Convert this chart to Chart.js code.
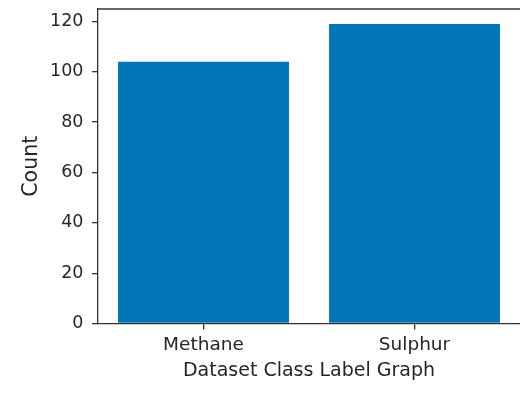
<!DOCTYPE html>
<html>
<head>
<meta charset="utf-8">
<script src="https://cdn.jsdelivr.net/npm/chart.js@4/dist/chart.umd.min.js"></script>
<style>
  html, body { margin: 0; padding: 0; background: #ffffff; }
  #wrap { width: 520px; height: 396px; }
</style>
</head>
<body>
<div id="wrap"><canvas id="c" width="520" height="396"></canvas></div>
<script>
const categories = ["Methane", "Sulphur"];
const counts = [104, 119];
const yTicks = [0, 20, 40, 60, 80, 100, 120];
const xTitle = "Dataset Class Label Graph";
const yTitle = "Count";

const TEXT = '#262626';
const SPINE = '#333333';
const FONT = 'DejaVu Sans';

const framePlugin = {
  id: 'frame',
  afterDraw(chart) {
    const { ctx, chartArea: a } = chart;
    ctx.save();
    ctx.strokeStyle = SPINE;
    ctx.lineWidth = 1.3;
    ctx.beginPath();
    ctx.moveTo(a.left, a.top);
    ctx.lineTo(chart.width + 2, a.top);
    ctx.stroke();
    ctx.restore();
  }
};

new Chart(document.getElementById('c'), {
  type: 'bar',
  data: {
    labels: categories,
    datasets: [{
      data: counts,
      backgroundColor: '#0076b6',
      borderWidth: 0,
      categoryPercentage: 1.0,
      barPercentage: 0.81
    }]
  },
  options: {
    responsive: false,
    animation: false,
    devicePixelRatio: 1,
    layout: { padding: { top: 9, right: 0, bottom: 0, left: 0 } },
    plugins: {
      legend: { display: false },
      tooltip: { enabled: false }
    },
    scales: {
      x: {
        offset: true,
        grid: { display: true, offset: false, drawOnChartArea: false, drawTicks: true, tickLength: 6, color: SPINE, lineWidth: 1.3 },
        border: { display: true, color: SPINE, width: 1.3 },
        ticks: { color: TEXT, font: { family: FONT, size: 18.5 }, padding: 5, maxRotation: 0 },
        title: { display: true, text: xTitle, color: TEXT, font: { family: FONT, size: 19 }, padding: { top: 0, bottom: 14 } },
        afterFit(scale) { scale.height = 72.5; scale.paddingLeft = 0; scale.paddingRight = 0; }
      },
      y: {
        min: 0,
        max: 124.95,
        afterBuildTicks(scale) { scale.ticks = yTicks.map(v => ({ value: v })); },
        grid: { display: true, drawOnChartArea: false, drawTicks: true, tickLength: 6, color: SPINE, lineWidth: 1.3 },
        border: { display: true, color: SPINE, width: 1.3 },
        ticks: { color: TEXT, font: { family: FONT, size: 17.5 }, padding: 8.5 },
        title: { display: true, text: yTitle, color: TEXT, font: { family: FONT, size: 20.5 }, padding: { top: 19.5, bottom: 0 } },
        afterFit(scale) { scale.width = 98; scale.paddingTop = 0; scale.paddingBottom = 0; }
      }
    }
  },
  plugins: [framePlugin]
});
</script>
</body>
</html>
